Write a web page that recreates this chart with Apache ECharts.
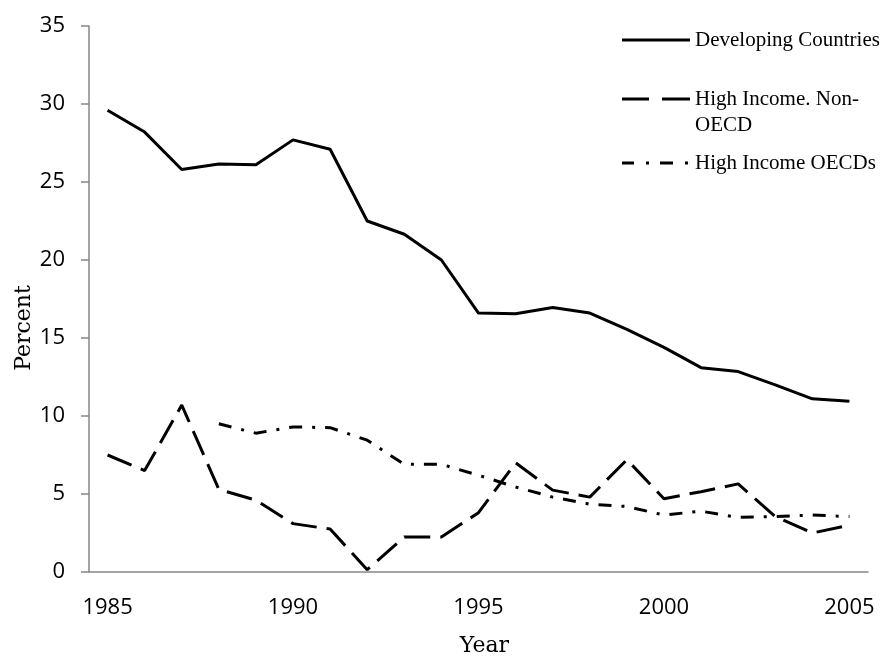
<!DOCTYPE html>
<html>
<head>
<meta charset="utf-8">
<script src="https://cdn.jsdelivr.net/npm/echarts@6/dist/echarts.min.js"></script>
<style>
  html, body { margin: 0; padding: 0; background: #fff; }
  #main { width: 885px; height: 656px; }
</style>
</head>
<body>
<div id="main"></div>
<script>
var years = ['1985', '1986', '1987', '1988', '1989', '1990', '1991', '1992', '1993', '1994', '1995',
             '1996', '1997', '1998', '1999', '2000', '2001', '2002', '2003', '2004', '2005'];

var developing = [29.6, 28.2, 25.8, 26.15, 26.1, 27.7, 27.1, 22.5, 21.65, 20.0, 16.6,
                  16.55, 16.95, 16.6, 15.55, 14.4, 13.1, 12.85, 12.0, 11.1, 10.95];

var nonOecd = [7.5, 6.5, 10.7, 5.3, 4.6, 3.1, 2.75, 0.15, 2.25, 2.25, 3.8,
               7.0, 5.25, 4.8, 7.2, 4.7, 5.15, 5.65, 3.55, 2.5, 3.0];

var oecd = [null, null, null, 9.5, 8.9, 9.3, 9.25, 8.45, 6.9, 6.9, 6.2,
            5.45, 4.8, 4.35, 4.2, 3.65, 3.9, 3.5, 3.55, 3.65, 3.55];

var names = ['Developing Countries', 'High Income. Non-OECD', 'High Income OECDs'];

var myChart = echarts.init(document.getElementById('main'));

var axisGray = '#868686';
var tickFont = { fontFamily: 'Open Sans', fontSize: 22, color: '#000' };
var serifFont = 'DejaVu Serif';

// legend samples drawn as small filled paths (68 x 3)
var iconSolid = 'path://M0,0H68V3H0Z';
var iconDash = 'path://M0,0H27V3H0Z M40,0H68V3H40Z';
var iconDashDot = 'path://M0,0H12V3H0Z M24,0H27V3H24Z M38,0H51V3H38Z M63,0H66V3H63Z M67.9,0H68V3H67.9Z';

function legendAt(name, top, icon, formatter) {
    var lg = {
        data: [{ name: name, icon: icon }],
        left: 622,
        top: top,
        padding: 0,
        itemWidth: 68,
        itemHeight: 3,
        itemStyle: { color: '#000', borderWidth: 0 },
        textStyle: {
            fontFamily: 'Liberation Serif',
            fontSize: 21,
            color: '#000',
            lineHeight: 26
        }
    };
    if (formatter) lg.formatter = formatter;
    return lg;
}

var option = {
    animation: false,
    backgroundColor: '#fff',
    grid: {
        left: 89,
        right: 17,
        top: 26,
        bottom: 84,
        outerBoundsMode: 'none'
    },
    legend: [
        legendAt(names[0], 27, iconSolid),
        legendAt(names[1], 60, iconDash, function (name) { return '\nHigh Income. Non-\nOECD'; }),
        legendAt(names[2], 150, iconDashDot)
    ],
    xAxis: {
        type: 'category',
        data: years,
        boundaryGap: true,
        name: 'Year',
        nameLocation: 'middle',
        nameGap: 63,
        nameMoveOverlap: false,
        nameTextStyle: {
            fontFamily: serifFont,
            fontSize: 22,
            color: '#000',
            padding: [0, 0, 0, 12]
        },
        axisLine: { lineStyle: { color: axisGray, width: 1.5 } },
        axisTick: { interval: 1, length: 7, lineStyle: { color: axisGray, width: 1.5 } },
        axisLabel: Object.assign({ interval: 4, margin: 25 }, tickFont),
        splitLine: { show: false }
    },
    yAxis: {
        type: 'value',
        min: 0,
        max: 35,
        interval: 5,
        name: 'Percent',
        nameLocation: 'middle',
        nameGap: 54,
        nameMoveOverlap: false,
        nameTextStyle: {
            fontFamily: serifFont,
            fontSize: 22,
            color: '#000',
            padding: [0, 58, 0, 0]
        },
        axisLine: { show: true, lineStyle: { color: axisGray, width: 1.5 } },
        axisTick: { show: true, length: 8, lineStyle: { color: axisGray, width: 1.5 } },
        axisLabel: Object.assign({ margin: 24 }, tickFont),
        splitLine: { show: false }
    },
    series: [
        {
            name: names[0],
            type: 'line',
            data: developing,
            symbol: 'none',
            lineStyle: { color: '#000', width: 3, type: 'solid' },
            itemStyle: { color: '#000' }
        },
        {
            name: names[1],
            type: 'line',
            data: nonOecd,
            symbol: 'none',
            lineStyle: { color: '#000', width: 3, type: [26, 10] },
            itemStyle: { color: '#000' }
        },
        {
            name: names[2],
            type: 'line',
            data: oecd,
            symbol: 'none',
            connectNulls: false,
            lineStyle: { color: '#000', width: 3, type: [13, 10, 3, 10] },
            itemStyle: { color: '#000' }
        }
    ]
};

myChart.setOption(option);
</script>
</body>
</html>
